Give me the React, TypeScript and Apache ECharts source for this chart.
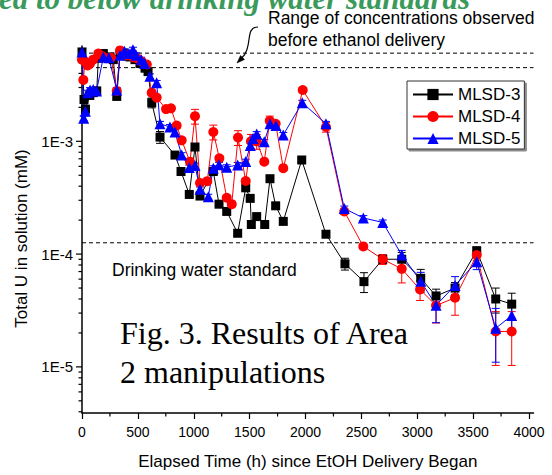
import React, { useEffect, useRef } from "react";
import * as echarts from "echarts";

// ---------- data ----------
const xMajorTicks = [0, 500, 1000, 1500, 2000, 2500, 3000, 3500, 4000];
const xMinorTicks = [250, 750, 1250, 1750, 2250, 2750, 3250, 3750];
const yDecades = [1e-5, 1e-4, 1e-3];
const yMinorTicks = [
  4e-6, 5e-6, 6e-6, 7e-6, 8e-6, 9e-6,
  2e-5, 3e-5, 4e-5, 5e-5, 6e-5, 7e-5, 8e-5, 9e-5,
  2e-4, 3e-4, 4e-4, 5e-4, 6e-4, 7e-4, 8e-4, 9e-4,
  2e-3, 3e-3, 4e-3, 5e-3, 6e-3,
];
const preEthanolRange = [6.05e-3, 4.5e-3];
const drinkingStandard = [1.26e-4];

const mlsd3T = [0, 18, 31, 70, 100, 132, 146, 170, 191, 220, 251, 280, 311, 340, 370, 400, 430, 474, 519, 564, 591, 624, 698, 832, 886, 960, 1011, 1056, 1175, 1226, 1295, 1393, 1465, 1505, 1515, 1563, 1635, 1682, 1733, 1801, 1966, 2183, 2353, 2523, 2691, 2861, 3031, 3168, 3338, 3532, 3702, 3845];
const mlsd3U = [6.2e-3, 2.35e-3, 1.93e-3, 2.55e-3, 2.7e-3, 2.8e-3, 5.45e-3, 5.6e-3, 6.0e-3, 5.5e-3, 5.6e-3, 5.3e-3, 2.5e-3, 5.8e-3, 6.0e-3, 5.7e-3, 5.6e-3, 5.3e-3, 4.9e-3, 4.45e-3, 4.15e-3, 2.2e-3, 1.09e-3, 7.55e-4, 5.4e-4, 3.38e-4, 8.9e-4, 3.27e-4, 5.4e-4, 2.77e-4, 2.39e-4, 1.53e-4, 3.87e-4, 3.12e-4, 1.83e-4, 2.15e-4, 1.83e-4, 4.66e-4, 2.68e-4, 1.95e-4, 6.83e-4, 1.5e-4, 8.2e-5, 5.7e-5, 9.0e-5, 9.0e-5, 6.1e-5, 4.25e-5, 5.0e-5, 1.07e-4, 4.0e-5, 3.6e-5];
const mlsd3Err = [0.05, 0.05, 0.05, 0.05, 0.05, 0.05, 0.05, 0.05, 0.05, 0.05, 0.05, 0.05, 0.05, 0.05, 0.05, 0.05, 0.05, 0.05, 0.05, 0.05, 0.05, 0.1, 0.12, 0.05, 0.05, 0.05, 0.05, 0.05, 0.05, 0.05, 0.05, 0.05, 0.05, 0.05, 0.05, 0.05, 0.05, 0.05, 0.05, 0.05, 0.05, 0.05, 0.12, 0.2, 0.08, 0.15, 0.2, 0.15, 0.12, 0.08, 0.25, 0.25];

const mlsd4T = [0, 12, 27, 50, 72, 100, 146, 180, 221, 260, 311, 340, 370, 400, 459, 500, 534, 580, 624, 668, 752, 796, 847, 892, 966, 1011, 1056, 1121, 1175, 1229, 1295, 1340, 1396, 1465, 1512, 1563, 1631, 1680, 1733, 1801, 1975, 2183, 2347, 2517, 2691, 2861, 3025, 3168, 3338, 3532, 3702, 3845];
const mlsd4U = [5.3e-3, 3.5e-3, 5.1e-3, 4.7e-3, 4.9e-3, 5.3e-3, 6.0e-3, 5.7e-3, 5.45e-3, 5.5e-3, 2.8e-3, 6.4e-3, 5.9e-3, 5.8e-3, 5.55e-3, 5.4e-3, 5.1e-3, 4.8e-3, 2.7e-3, 2.44e-3, 1.93e-3, 1.96e-3, 1.38e-3, 1.02e-3, 6.6e-4, 1.67e-3, 4.28e-4, 4.43e-4, 1.21e-3, 7.07e-4, 3.16e-4, 2.77e-4, 1.08e-3, 4.45e-4, 1.0e-3, 1.0e-3, 6.6e-4, 1.52e-3, 1.43e-3, 5.78e-4, 2.85e-3, 1.34e-3, 2.39e-4, 1.17e-4, 9.0e-5, 7.4e-5, 4.85e-5, 3.5e-5, 4.1e-5, 9.8e-5, 2.06e-5, 2.06e-5];
const mlsd4Err = [0.05, 0.05, 0.05, 0.05, 0.05, 0.05, 0.05, 0.05, 0.05, 0.05, 0.05, 0.05, 0.05, 0.05, 0.05, 0.05, 0.05, 0.05, 0.05, 0.05, 0.05, 0.05, 0.05, 0.05, 0.05, 0.15, 0.05, 0.05, 0.15, 0.05, 0.05, 0.05, 0.15, 0.05, 0.15, 0.15, 0.05, 0.1, 0.05, 0.05, 0.05, 0.1, 0.05, 0.05, 0.1, 0.25, 0.2, 0.3, 0.3, 0.1, 0.5, 0.5];

const mlsd5T = [0, 15, 30, 50, 72, 100, 130, 191, 240, 311, 340, 380, 420, 456, 485, 530, 561, 608, 668, 698, 787, 832, 892, 960, 1011, 1056, 1130, 1175, 1226, 1295, 1393, 1465, 1506, 1530, 1563, 1631, 1682, 1736, 1801, 1971, 2183, 2347, 2517, 2691, 2861, 3031, 3168, 3338, 3532, 3702, 3845];
const mlsd5U = [6.2e-3, 1.6e-3, 1.85e-3, 2.7e-3, 2.85e-3, 2.88e-3, 2.8e-3, 5.6e-3, 5.5e-3, 2.85e-3, 5.8e-3, 6.3e-3, 6.0e-3, 6.5e-3, 5.8e-3, 5.3e-3, 4.9e-3, 3.77e-3, 3.3e-3, 1.43e-3, 1.34e-3, 1.21e-3, 7.55e-4, 5.86e-4, 6.1e-4, 3.75e-4, 3.23e-4, 5.78e-4, 6.2e-4, 5.9e-4, 6.17e-4, 6.61e-4, 9.2e-4, 1.06e-3, 1.16e-3, 9.9e-4, 1.43e-3, 1.38e-3, 1.14e-3, 2.2e-3, 1.43e-3, 2.54e-4, 2.09e-4, 1.91e-4, 9.8e-5, 5.74e-5, 3.52e-5, 5.26e-5, 8.57e-5, 2.2e-5, 2.85e-5];
const mlsd5Err = [0.05, 0.05, 0.05, 0.05, 0.05, 0.05, 0.05, 0.05, 0.05, 0.05, 0.05, 0.05, 0.05, 0.05, 0.05, 0.05, 0.05, 0.05, 0.05, 0.05, 0.05, 0.05, 0.05, 0.05, 0.05, 0.05, 0.05, 0.05, 0.05, 0.05, 0.05, 0.05, 0.05, 0.05, 0.05, 0.05, 0.05, 0.05, 0.05, 0.05, 0.05, 0.05, 0.05, 0.05, 0.1, 0.2, 0.3, 0.2, 0.15, 0.5, 0.3];

const X_MIN = 0;
const X_MAX = 4040;
const Y_MIN = 3.9e-6;
const Y_MAX = 7e-3;

const SANS = '"Liberation Sans", Arial, sans-serif';
const SERIF = '"Liberation Serif", "Times New Roman", serif';

function pairs(t: number[], u: number[]) {
  return t.map((x, i) => [x, u[i]]);
}
function errs(t: number[], u: number[], e: number[]) {
  return t.map((x, i) => [x, u[i] * (1 - e[i]), u[i] * (1 + e[i])]);
}

function errorSeries(name: string, data: number[][], color: string) {
  return {
    type: "custom",
    name: name + " err",
    data,
    encode: { x: 0, y: [1, 2] },
    silent: true,
    clip: false,
    renderItem: (_p: any, api: any) => {
      const t = api.value(0);
      const hi = api.coord([t, api.value(2)]);
      const lo = api.coord([t, api.value(1)]);
      const w = 4;
      const st = { stroke: color, lineWidth: 1 };
      return {
        type: "group",
        children: [
          { type: "line", shape: { x1: hi[0], y1: hi[1], x2: lo[0], y2: lo[1] }, style: st },
          { type: "line", shape: { x1: hi[0] - w, y1: hi[1], x2: hi[0] + w, y2: hi[1] }, style: st },
          { type: "line", shape: { x1: lo[0] - w, y1: lo[1], x2: lo[0] + w, y2: lo[1] }, style: st },
        ],
      };
    },
  };
}

function lineSeries(name: string, data: number[][], color: string, symbol: string, size: number) {
  return {
    type: "line",
    name,
    data,
    symbol,
    symbolSize: size,
    showAllSymbol: true,
    lineStyle: { color, width: 1 },
    itemStyle: { color, borderWidth: 0 },
    emphasis: { disabled: true },
    silent: true,
  };
}

export default function App() {
  const ref = useRef<HTMLDivElement>(null);

  useEffect(() => {
    if (!ref.current) return;
    const chart = echarts.init(ref.current, null, { renderer: "svg" });

    const yTickData = [
      ...yDecades.map((v) => [X_MIN, v, 1]),
      ...yMinorTicks.map((v) => [X_MIN, v, 0]),
    ];
    const xMinorData = xMinorTicks.map((t) => [t, Y_MIN]);
    const refLineData = [...preEthanolRange, ...drinkingStandard].map((v) => [X_MIN, v]);

    const option: any = {
      animation: false,
      backgroundColor: "#ffffff",
      grid: { left: 82, right: 18.5, top: 46, bottom: 56, containLabel: false },
      xAxis: {
        type: "value",
        min: X_MIN,
        max: X_MAX,
        name: "Elapsed Time (h) since EtOH Delivery Began",
        nameLocation: "middle",
        nameGap: 40,
        nameTextStyle: { fontSize: 17, color: "#000", fontFamily: SANS },
        axisLine: { show: true, onZero: false, lineStyle: { color: "#000", width: 1.5 } },
        axisTick: { show: true, customValues: xMajorTicks, length: 6, lineStyle: { color: "#000", width: 1.2 } },
        axisLabel: {
          customValues: xMajorTicks,
          color: "#000",
          fontSize: 14,
          margin: 12,
          fontFamily: SANS,
          formatter: (v: number) => String(v),
        },
        splitLine: { show: false },
        minorTick: { show: false },
      },
      yAxis: {
        type: "log",
        logBase: 10,
        min: Y_MIN,
        max: Y_MAX,
        name: "Total U in solution (mM)",
        nameLocation: "middle",
        nameGap: 51,
        nameTextStyle: { fontSize: 17, color: "#000", fontFamily: SANS, padding: [0, 18, 0, 0] },
        axisLine: { show: true, onZero: false, lineStyle: { color: "#000", width: 1.5 } },
        axisTick: { show: false },
        axisLabel: {
          color: "#000",
          fontSize: 15,
          margin: 9,
          fontFamily: SANS,
          showMinLabel: false,
          showMaxLabel: false,
          formatter: (v: number) => {
            const e = Math.log10(v);
            const r = Math.round(e);
            return Math.abs(e - r) < 1e-6 ? "1E" + r : "";
          },
        },
        splitLine: { show: false },
        minorTick: { show: false },
      },
      legend: {
        data: ["MLSD-3", "MLSD-4", "MLSD-5"],
        orient: "vertical",
        left: 407,
        top: 81,
        itemWidth: 40,
        itemHeight: 14,
        itemGap: 5,
        padding: [5, 4, 2, 5],
        backgroundColor: "#ffffff",
        borderColor: "#333333",
        borderWidth: 1,
        borderRadius: 0,
        shadowColor: "rgba(0,0,0,0.45)",
        shadowOffsetX: 2,
        shadowOffsetY: 2,
        shadowBlur: 0,
        selectedMode: false,
        textStyle: { fontSize: 17, color: "#000", fontFamily: SANS, lineHeight: 17 },
      },
      series: [
        {
          type: "custom",
          name: "y ticks",
          data: yTickData,
          encode: { x: 0, y: 1 },
          silent: true,
          clip: false,
          renderItem: (_p: any, api: any) => {
            const p = api.coord([api.value(0), api.value(1)]);
            const len = api.value(2) ? 6 : 3.5;
            return {
              type: "line",
              shape: { x1: p[0] - len, y1: p[1], x2: p[0], y2: p[1] },
              style: { stroke: "#000", lineWidth: 1.2 },
            };
          },
        },
        {
          type: "custom",
          name: "x minor ticks",
          data: xMinorData,
          encode: { x: 0, y: 1 },
          silent: true,
          clip: false,
          renderItem: (_p: any, api: any) => {
            const p = api.coord([api.value(0), api.value(1)]);
            return {
              type: "line",
              shape: { x1: p[0], y1: p[1], x2: p[0], y2: p[1] + 3.5 },
              style: { stroke: "#000", lineWidth: 1.2 },
            };
          },
        },
        {
          type: "custom",
          name: "reference lines",
          data: refLineData,
          encode: { x: 0, y: 1 },
          silent: true,
          clip: false,
          renderItem: (_p: any, api: any) => {
            const v = api.value(1);
            const a = api.coord([X_MIN, v]);
            const b = api.coord([X_MAX, v]);
            return {
              type: "line",
              shape: { x1: a[0], y1: a[1], x2: b[0], y2: b[1] },
              style: { stroke: "#000", lineWidth: 1, lineDash: [4, 3] },
            };
          },
        },
        errorSeries("MLSD-3", errs(mlsd3T, mlsd3U, mlsd3Err), "#000000"),
        lineSeries("MLSD-3", pairs(mlsd3T, mlsd3U), "#000000", "rect", 9),
        errorSeries("MLSD-4", errs(mlsd4T, mlsd4U, mlsd4Err), "#ff0000"),
        lineSeries("MLSD-4", pairs(mlsd4T, mlsd4U), "#ff0000", "circle", 10),
        errorSeries("MLSD-5", errs(mlsd5T, mlsd5U, mlsd5Err), "#0000ff"),
        lineSeries("MLSD-5", pairs(mlsd5T, mlsd5U), "#0000ff", "triangle", 11),
      ],
      graphic: [
        {
          type: "text",
          silent: true,
          style: {
            text: "ed to below drinking water standards",
            x: -1,
            y: -2,
            font: "italic bold 31px " + SERIF,
            fill: "#3a9a5c",
            textAlign: "left",
            textVerticalAlign: "middle",
          },
        },
        {
          type: "text",
          silent: true,
          style: {
            text: "Range of concentrations observed",
            x: 268,
            y: 18,
            font: "17.5px " + SANS,
            fill: "#000",
            textAlign: "left",
            textVerticalAlign: "middle",
          },
        },
        {
          type: "text",
          silent: true,
          style: {
            text: "before ethanol delivery",
            x: 268,
            y: 40,
            font: "17.5px " + SANS,
            fill: "#000",
            textAlign: "left",
            textVerticalAlign: "middle",
          },
        },
        {
          type: "bezierCurve",
          silent: true,
          shape: { x1: 258, y1: 27, cpx1: 244, cpy1: 27, cpx2: 254, cpy2: 47, x2: 241, y2: 59 },
          style: { stroke: "#000", lineWidth: 1.2, fill: "none" },
        },
        {
          type: "polygon",
          silent: true,
          shape: { points: [[237, 63], [244.5, 59.5], [240.5, 55.5]] },
          style: { fill: "#000", stroke: "#000", lineWidth: 0.5 },
        },
        {
          type: "text",
          silent: true,
          style: {
            text: "Drinking water standard",
            x: 112,
            y: 270,
            font: "17.5px " + SANS,
            fill: "#000",
            textAlign: "left",
            textVerticalAlign: "middle",
          },
        },
        {
          type: "text",
          silent: true,
          style: {
            text: "Fig. 3. Results of Area",
            x: 120,
            y: 333,
            font: "32px " + SERIF,
            fill: "#000",
            textAlign: "left",
            textVerticalAlign: "middle",
          },
        },
        {
          type: "text",
          silent: true,
          style: {
            text: "2 manipulations",
            x: 120,
            y: 372,
            font: "32px " + SERIF,
            fill: "#000",
            textAlign: "left",
            textVerticalAlign: "middle",
          },
        },
      ],
    };

    chart.setOption(option);
    return () => chart.dispose();
  }, []);

  return (
    <div
      ref={ref}
      style={{ position: "absolute", left: 0, top: 0, width: 552, height: 475, background: "#fff" }}
    />
  );
}
